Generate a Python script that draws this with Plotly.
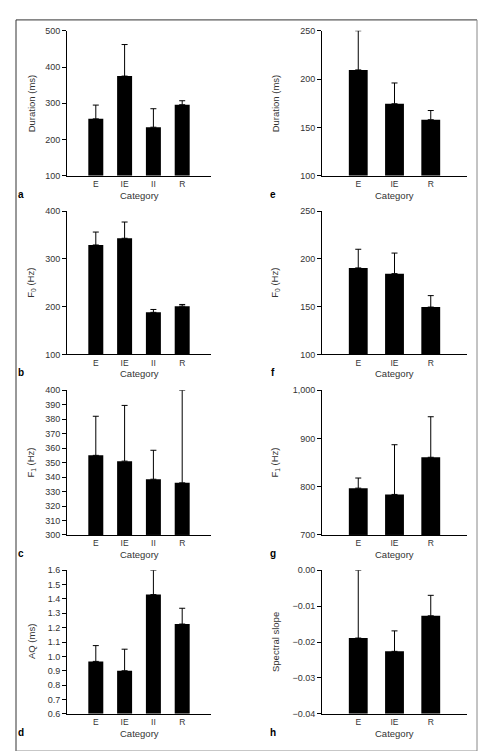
import plotly.graph_objects as go  # type: ignore[import-untyped]

import numpy as np

CATS_4 = ["E", "IE", "II", "R"]
CATS_3 = ["E", "IE", "R"]

# left column (a-d): four categories
DUR_4_MEAN = [257, 375, 234, 296]
DUR_4_SD = [38, 87, 51, 11]
F0_4_MEAN = [329, 343, 188, 201]
F0_4_SD = [27, 34, 6, 3.5]
F1_4_MEAN = [355, 351, 338.5, 336]
F1_4_SD = [27, 38.5, 20, 64]
AQ_4_MEAN = [0.965, 0.90, 1.43, 1.225]
AQ_4_SD = [0.11, 0.15, 0.17, 0.11]

# right column (e-h): three categories
DUR_3_MEAN = [209.5, 174.5, 158]
DUR_3_SD = [40.5, 21.5, 9.5]
F0_3_MEAN = [190.5, 184.5, 149.5]
F0_3_SD = [19.5, 21.5, 12]
F1_3_MEAN = [797, 784, 861]
F1_3_SD = [21, 103, 84]
SLOPE_3_MEAN = [-0.0189, -0.0226, -0.0127]
SLOPE_3_SD = [0.0189, 0.0057, 0.0057]

W, H = 486, 751
FONT = "Liberation Sans"
TEXT = "#333333"

# pixel boxes of the plot areas: (left, right) and (top, bottom)
COLS = [(59, 203), (314, 459)]
ROWS = [(18, 165), (200.7, 346), (382.3, 529), (564.7, 710.3)]


def panels() -> list[dict]:
    return [
        dict(cats=CATS_4, mean=DUR_4_MEAN, sd=DUR_4_SD, col=0, row=0, letter="a",
             title="Duration (ms)", range=[100, 500], dtick=100, fmt=""),
        dict(cats=CATS_4, mean=F0_4_MEAN, sd=F0_4_SD, col=0, row=1, letter="b",
             title="F<sub>0</sub> (Hz)", range=[100, 400], dtick=100, fmt=""),
        dict(cats=CATS_4, mean=F1_4_MEAN, sd=F1_4_SD, col=0, row=2, letter="c",
             title="F<sub>1</sub> (Hz)", range=[300, 400], dtick=10, fmt=""),
        dict(cats=CATS_4, mean=AQ_4_MEAN, sd=AQ_4_SD, col=0, row=3, letter="d",
             title="AQ (ms)", range=[0.6, 1.6], dtick=0.1, fmt=".1f"),
        dict(cats=CATS_3, mean=DUR_3_MEAN, sd=DUR_3_SD, col=1, row=0, letter="e",
             title="Duration (ms)", range=[100, 250], dtick=50, fmt=""),
        dict(cats=CATS_3, mean=F0_3_MEAN, sd=F0_3_SD, col=1, row=1, letter="f",
             title="F<sub>0</sub> (Hz)", range=[100, 250], dtick=50, fmt=""),
        dict(cats=CATS_3, mean=F1_3_MEAN, sd=F1_3_SD, col=1, row=2, letter="g",
             title="F<sub>1</sub> (Hz)", range=[700, 1000], dtick=100, fmt=",d"),
        dict(cats=CATS_3, mean=SLOPE_3_MEAN, sd=SLOPE_3_SD, col=1, row=3, letter="h",
             title="Spectral slope", range=[-0.04, 0.0], dtick=0.01, fmt=".2f"),
    ]


def px(x: float) -> float:
    return x / W


def py(y: float) -> float:
    return 1 - y / H


def main() -> None:
    fig = go.Figure()
    annotations = []

    for i, p in enumerate(panels(), start=1):
        suffix = "" if i == 1 else str(i)
        left, right = COLS[p["col"]]
        top, bottom = ROWS[p["row"]]
        floor = p["range"][0]

        # bars rise from the bottom of the axis, so the slope panel needs a base
        mean = np.array(p["mean"], dtype=float)
        fig.add_trace(
            go.Bar(
                x=p["cats"],
                y=mean - floor,
                base=floor,
                width=0.52,
                marker=dict(color="black", line_width=0),
                error_y=dict(
                    type="data",
                    symmetric=False,
                    array=p["sd"],
                    arrayminus=[0] * len(p["cats"]),
                    color="black",
                    thickness=1,
                    width=3,
                ),
                xaxis=f"x{suffix}",
                yaxis=f"y{suffix}",
                showlegend=False,
            )
        )

        n = len(p["cats"])
        fig.layout[f"xaxis{suffix}"] = dict(
            domain=[px(left), px(right)],
            anchor=f"y{suffix}",
            type="category",
            range=[-1, n],
            showline=True,
            linecolor="black",
            linewidth=1,
            ticks="",
            showgrid=False,
            zeroline=False,
            tickfont=dict(size=8.5, color=TEXT),
            fixedrange=True,
        )
        fig.layout[f"yaxis{suffix}"] = dict(
            domain=[py(bottom), py(top)],
            anchor=f"x{suffix}",
            range=p["range"],
            tick0=floor,
            dtick=p["dtick"],
            tickformat=p["fmt"],
            showline=True,
            linecolor="black",
            linewidth=1,
            ticks="outside",
            ticklen=4,
            tickcolor="black",
            showgrid=False,
            zeroline=False,
            tickfont=dict(size=9, color=TEXT),
            fixedrange=True,
        )

        mid_x = (left + right) / 2
        mid_y = (top + bottom) / 2
        annotations.append(dict(
            text="Category", x=px(mid_x), y=py(bottom + 19.5),
            font=dict(size=9.5, color=TEXT),
        ))
        annotations.append(dict(
            text=p["title"], x=px(23 if p["col"] == 0 else 267), y=py(mid_y),
            textangle=-90, font=dict(size=9.5, color=TEXT),
        ))
        annotations.append(dict(
            text=f"<b>{p['letter']}</b>", x=px(13 if p["col"] == 0 else 265),
            y=py(bottom + 18.5), font=dict(size=10, color="black"),
        ))

    for a in annotations:
        a.update(xref="paper", yref="paper", showarrow=False,
                 xanchor="center", yanchor="middle")

    # frame round the figure: darker on top/left, lighter on right/bottom
    frame = [
        (8, 7, 469, 7, "#333333"),
        (8, 7, 8, 748, "#333333"),
        (469, 7, 469, 748, "#888888"),
        (8, 748, 469, 748, "#888888"),
    ]
    shapes = [
        dict(type="line", xref="paper", yref="paper",
             x0=px(x0), y0=py(y0), x1=px(x1), y1=py(y1),
             line=dict(color=c, width=1))
        for x0, y0, x1, y1, c in frame
    ]

    fig.update_layout(
        width=W,
        height=H,
        margin=dict(l=0, r=0, t=0, b=0),
        paper_bgcolor="white",
        plot_bgcolor="white",
        font=dict(family=FONT, color=TEXT),
        annotations=annotations,
        shapes=shapes,
        bargap=0.48,
    )
    fig.write_html("out.html")


if __name__ == "__main__":
    main()
